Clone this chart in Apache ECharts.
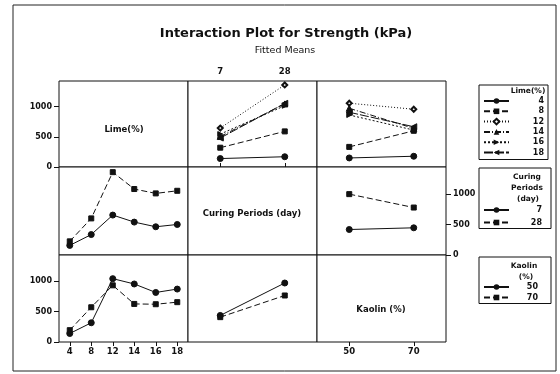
<!DOCTYPE html>
<html>
<head>
<meta charset="utf-8">
<title>Interaction Plot for Strength (kPa)</title>
<script src="https://cdn.jsdelivr.net/npm/echarts@6/dist/echarts.min.js"></script>
<style>
  html, body { margin: 0; padding: 0; background: #fff; }
  #chart { width: 560px; height: 374px; }
</style>
</head>
<body>
<div id="chart"></div>
<script>
// factor levels
var limeLevels = ['4', '8', '12', '14', '16', '18'];
var curingLevels = ['7', '28'];
var kaolinLevels = ['50', '70'];
var yTicks = [0, 500, 1000];

// row 1: Lime lines vs Curing periods
var limeByCuring = {
  '4':  [140, 170],
  '8':  [320, 590],
  '12': [645, 1360],
  '14': [505, 1045],
  '16': [545, 1015],
  '18': [480, 1055]
};
// row 1: Lime lines vs Kaolin
var limeByKaolin = {
  '4':  [150, 178],
  '8':  [333, 600],
  '12': [1057, 957],
  '14': [973, 640],
  '16': [862, 612],
  '18': [907, 667]
};
// row 2: Curing lines vs Lime / vs Kaolin
var curingByLime = {
  '7':  [158, 337, 658, 542, 465, 503],
  '28': [225, 603, 1365, 1087, 1015, 1058]
};
var curingByKaolin = {
  '7':  [420, 448],
  '28': [1003, 782]
};
// row 3: Kaolin lines vs Lime / vs Curing
var kaolinByLime = {
  '50': [140, 317, 1045, 957, 817, 873],
  '70': [195, 573, 935, 628, 623, 657]
};
var kaolinByCuring = {
  '50': [438, 973],
  '70': [410, 767]
};

var INK = '#111';
var FONT = 'DejaVu Sans';

// line/marker look of every group (Minitab defaults)
var looks = {
  '4':  { symbol: 'circle', size: 6, rot: 0, type: 'solid' },
  '8':  { symbol: 'rect', size: 5, rot: 0, type: [6, 3] },
  '12': { symbol: 'emptyDiamond', size: 5, rot: 0, type: [1, 2] },
  '14': { symbol: 'triangle', size: 6, rot: 0, type: [6, 2, 1, 2] },
  '16': { symbol: 'triangle', size: 5, rot: -90, type: [2, 2] },
  '18': { symbol: 'triangle', size: 6, rot: 90, type: [9, 2] },
  '7':  { symbol: 'circle', size: 6, rot: 0, type: 'solid' },
  '28': { symbol: 'rect', size: 5, rot: 0, type: [6, 3] },
  '50': { symbol: 'circle', size: 6, rot: 0, type: 'solid' },
  '70': { symbol: 'rect', size: 5, rot: 0, type: [6, 3] }
};

var colLeft = [59, 188, 317];
var colWidth = 129;
var rowTop = [81, 167, 255];
var rowHeight = [86, 88, 87];
var rowMax = [1425, 1450, 1435];
var colCats = [limeLevels, curingLevels, kaolinLevels];

var grids = [], xAxes = [], yAxes = [], series = [];

for (var r = 0; r < 3; r++) {
  for (var c = 0; c < 3; c++) {
    grids.push({
      left: colLeft[c], top: rowTop[r], width: colWidth, height: rowHeight[r],
      show: true, borderColor: INK, borderWidth: 1, backgroundColor: '#fff'
    });
    // x labels: col 1 and 3 at the bottom row, col 2 at the top row
    var showX = (c === 1 && r === 0) || (c !== 1 && r === 2);
    xAxes.push({
      gridIndex: r * 3 + c,
      type: 'category',
      data: colCats[c],
      position: c === 1 ? 'top' : 'bottom',
      boundaryGap: true,
      axisLine: { show: false },
      axisTick: { show: showX, alignWithLabel: true, length: 4, lineStyle: { color: INK } },
      axisLabel: { show: showX, margin: 5, color: INK, fontFamily: FONT, fontSize: 8.5, fontWeight: 'bold' },
      splitLine: { show: false }
    });
    // y labels: rows 1 and 3 on the left, row 2 on the right
    var showY = (r !== 1 && c === 0) || (r === 1 && c === 2);
    yAxes.push({
      gridIndex: r * 3 + c,
      type: 'value',
      min: 0, max: rowMax[r], interval: 500,
      position: r === 1 ? 'right' : 'left',
      axisLine: { show: false },
      axisTick: { show: showY, customValues: yTicks, length: 5, lineStyle: { color: INK } },
      axisLabel: {
        show: showY, customValues: yTicks, margin: 7, color: INK,
        fontFamily: FONT, fontSize: 8, fontWeight: 'bold',
        formatter: function (v) { return String(v); }
      },
      splitLine: { show: false }
    });
  }
}

function addPanel(gridIdx, groups) {
  Object.keys(groups).forEach(function (name) {
    var lk = looks[name];
    series.push({
      type: 'line',
      name: name,
      xAxisIndex: gridIdx,
      yAxisIndex: gridIdx,
      data: groups[name],
      symbol: lk.symbol,
      symbolSize: lk.size,
      symbolRotate: lk.rot,
      lineStyle: { color: INK, width: 1, type: lk.type },
      itemStyle: { color: INK, borderColor: INK },
      emphasis: { disabled: true },
      animation: false
    });
  });
}

addPanel(1, limeByCuring);
addPanel(2, limeByKaolin);
addPanel(3, curingByLime);
addPanel(5, curingByKaolin);
addPanel(6, kaolinByLime);
addPanel(7, kaolinByCuring);

function legendBox(names, top, pad, gap, textW) {
  return {
    orient: 'vertical',
    left: 479, top: top,
    padding: pad,
    itemGap: gap,
    itemWidth: 25, itemHeight: 7,
    borderColor: INK, borderWidth: 1,
    selectedMode: false,
    data: names,
    formatter: function (n) { return '{r|' + n + '}'; },
    textStyle: {
      color: INK,
      rich: { r: { width: textW, align: 'right', fontFamily: FONT, fontSize: 8, fontWeight: 'bold', lineHeight: 10, color: INK } }
    }
  };
}

function label(text, x, y, size, weight) {
  return {
    type: 'text', x: x, y: y,
    style: { text: text, fill: INK, font: weight + ' ' + size + 'px "' + FONT + '"', textAlign: 'center', textVerticalAlign: 'middle' }
  };
}

var option = {
  animation: false,
  grid: grids,
  xAxis: xAxes,
  yAxis: yAxes,
  series: series,
  legend: [
    legendBox(limeLevels, 85, [12, 4, 3, 4], 2.3, 30),
    legendBox(curingLevels, 168, [38, 9, 2, 4], 4.5, 28),
    legendBox(kaolinLevels, 257, [26, 13, 2, 4], 2.5, 24)
  ],
  graphic: [
    { type: 'rect', shape: { x: 13, y: 5, width: 543, height: 366 }, style: { fill: 'none', stroke: '#222', lineWidth: 1 } },
    label('Interaction Plot for Strength (kPa)', 286, 34, 13, 'bold'),
    label('Fitted Means', 285, 51, 9.5, 'normal'),
    label('Lime(%)', 124, 130, 8.5, 'bold'),
    label('Curing Periods (day)', 252, 214, 8.5, 'bold'),
    label('Kaolin (%)', 381, 310, 8.5, 'bold'),
    label('Lime(%)', 528, 91, 7.5, 'bold'),
    label('Curing', 527, 177, 7.5, 'bold'),
    label('Periods', 527, 188, 7.5, 'bold'),
    label('(day)', 528, 199, 7.5, 'bold'),
    label('Kaolin', 524, 266, 7.5, 'bold'),
    label('(%)', 526, 277, 7.5, 'bold')
  ]
};

var myChart = echarts.init(document.getElementById('chart'), null, { renderer: 'canvas' });
myChart.setOption(option);
</script>
</body>
</html>
